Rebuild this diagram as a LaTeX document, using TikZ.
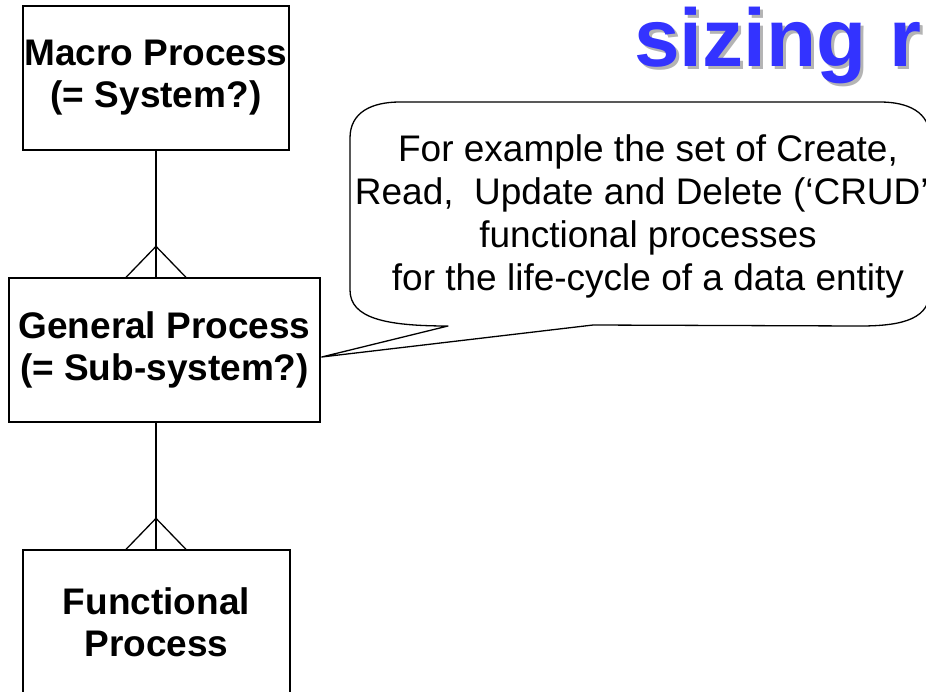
\documentclass[tikz,border=0pt]{standalone}
\usepackage{fontspec}
\setmainfont{Liberation Sans}
\usetikzlibrary{positioning,calc}
\definecolor{titleBlue}{HTML}{3333FF}
\definecolor{titleShadow}{HTML}{B4B4B4}

\begin{document}
\begin{tikzpicture}[
    x=1pt,y=-1pt,
    entity/.style={rectangle,draw,line width=1.3pt,minimum height=144pt,inner sep=0pt,
        align=center,font=\fontsize{37}{42}\selectfont\bfseries},
    link/.style={line width=1.3pt},
    callout/.style={draw,line width=1.3pt,line join=round},
    note/.style={align=center,inner sep=0pt,font=\fontsize{37}{43}\selectfont},
    heading/.style={anchor=base west,inner sep=0pt,font=\fontsize{82}{90}\selectfont\bfseries},
]
\clip (0,0) rectangle (926,691);

% === TITLE ===
\node[heading,titleShadow] (titleshadow) at (637,69) {sizing r};
\node[heading,titleBlue] (title) at (634,66) {sizing r};

% === ENTITIES ===
\node[entity,minimum width=266pt] (macro) at (156,78) {Macro Process\\(= System?)};
\node[entity,minimum width=311pt] (general) at (164.5,350) {General Process\\(= Sub-system?)};
\node[entity,minimum width=267pt] (functional) at (156.5,622) {Functional\\Process};

% === ONE-TO-MANY LINKS (crow's feet) ===
\coordinate (foot1) at (macro.south |- general.north);
\draw[link] (macro.south) -- (foot1);
\draw[link] ($(foot1)+(-30,0)$) -- ($(foot1)+(0,-31)$) -- ($(foot1)+(30,0)$);

\coordinate (foot2) at (macro.south |- functional.north);
\draw[link] (foot2 |- general.south) -- (foot2);
\draw[link] ($(foot2)+(-30,0)$) -- ($(foot2)+(0,-31)$) -- ($(foot2)+(30,0)$);

% === CALLOUT ===
\coordinate (tip) at ($(general.east)+(1,7)$);
\draw[callout] (tip) -- (448,326) .. controls (385,326) and (350,318) .. (350,290)
    -- (350,138) .. controls (350,112) and (372,102) .. (400,102)
    -- (880,102) .. controls (908,102) and (930,112) .. (930,138)
    -- (930,290) .. controls (930,318) and (905,326) .. (860,326)
    -- (593,325) -- cycle;
\node[note] (crud) at (648,216)
    {For example the set of Create,\\
     Read,\ \ Update and Delete (‘CRUD’)\hspace*{60pt}\\
     functional processes\\
     for the life-cycle of a data entity};

\end{tikzpicture}
\end{document}
